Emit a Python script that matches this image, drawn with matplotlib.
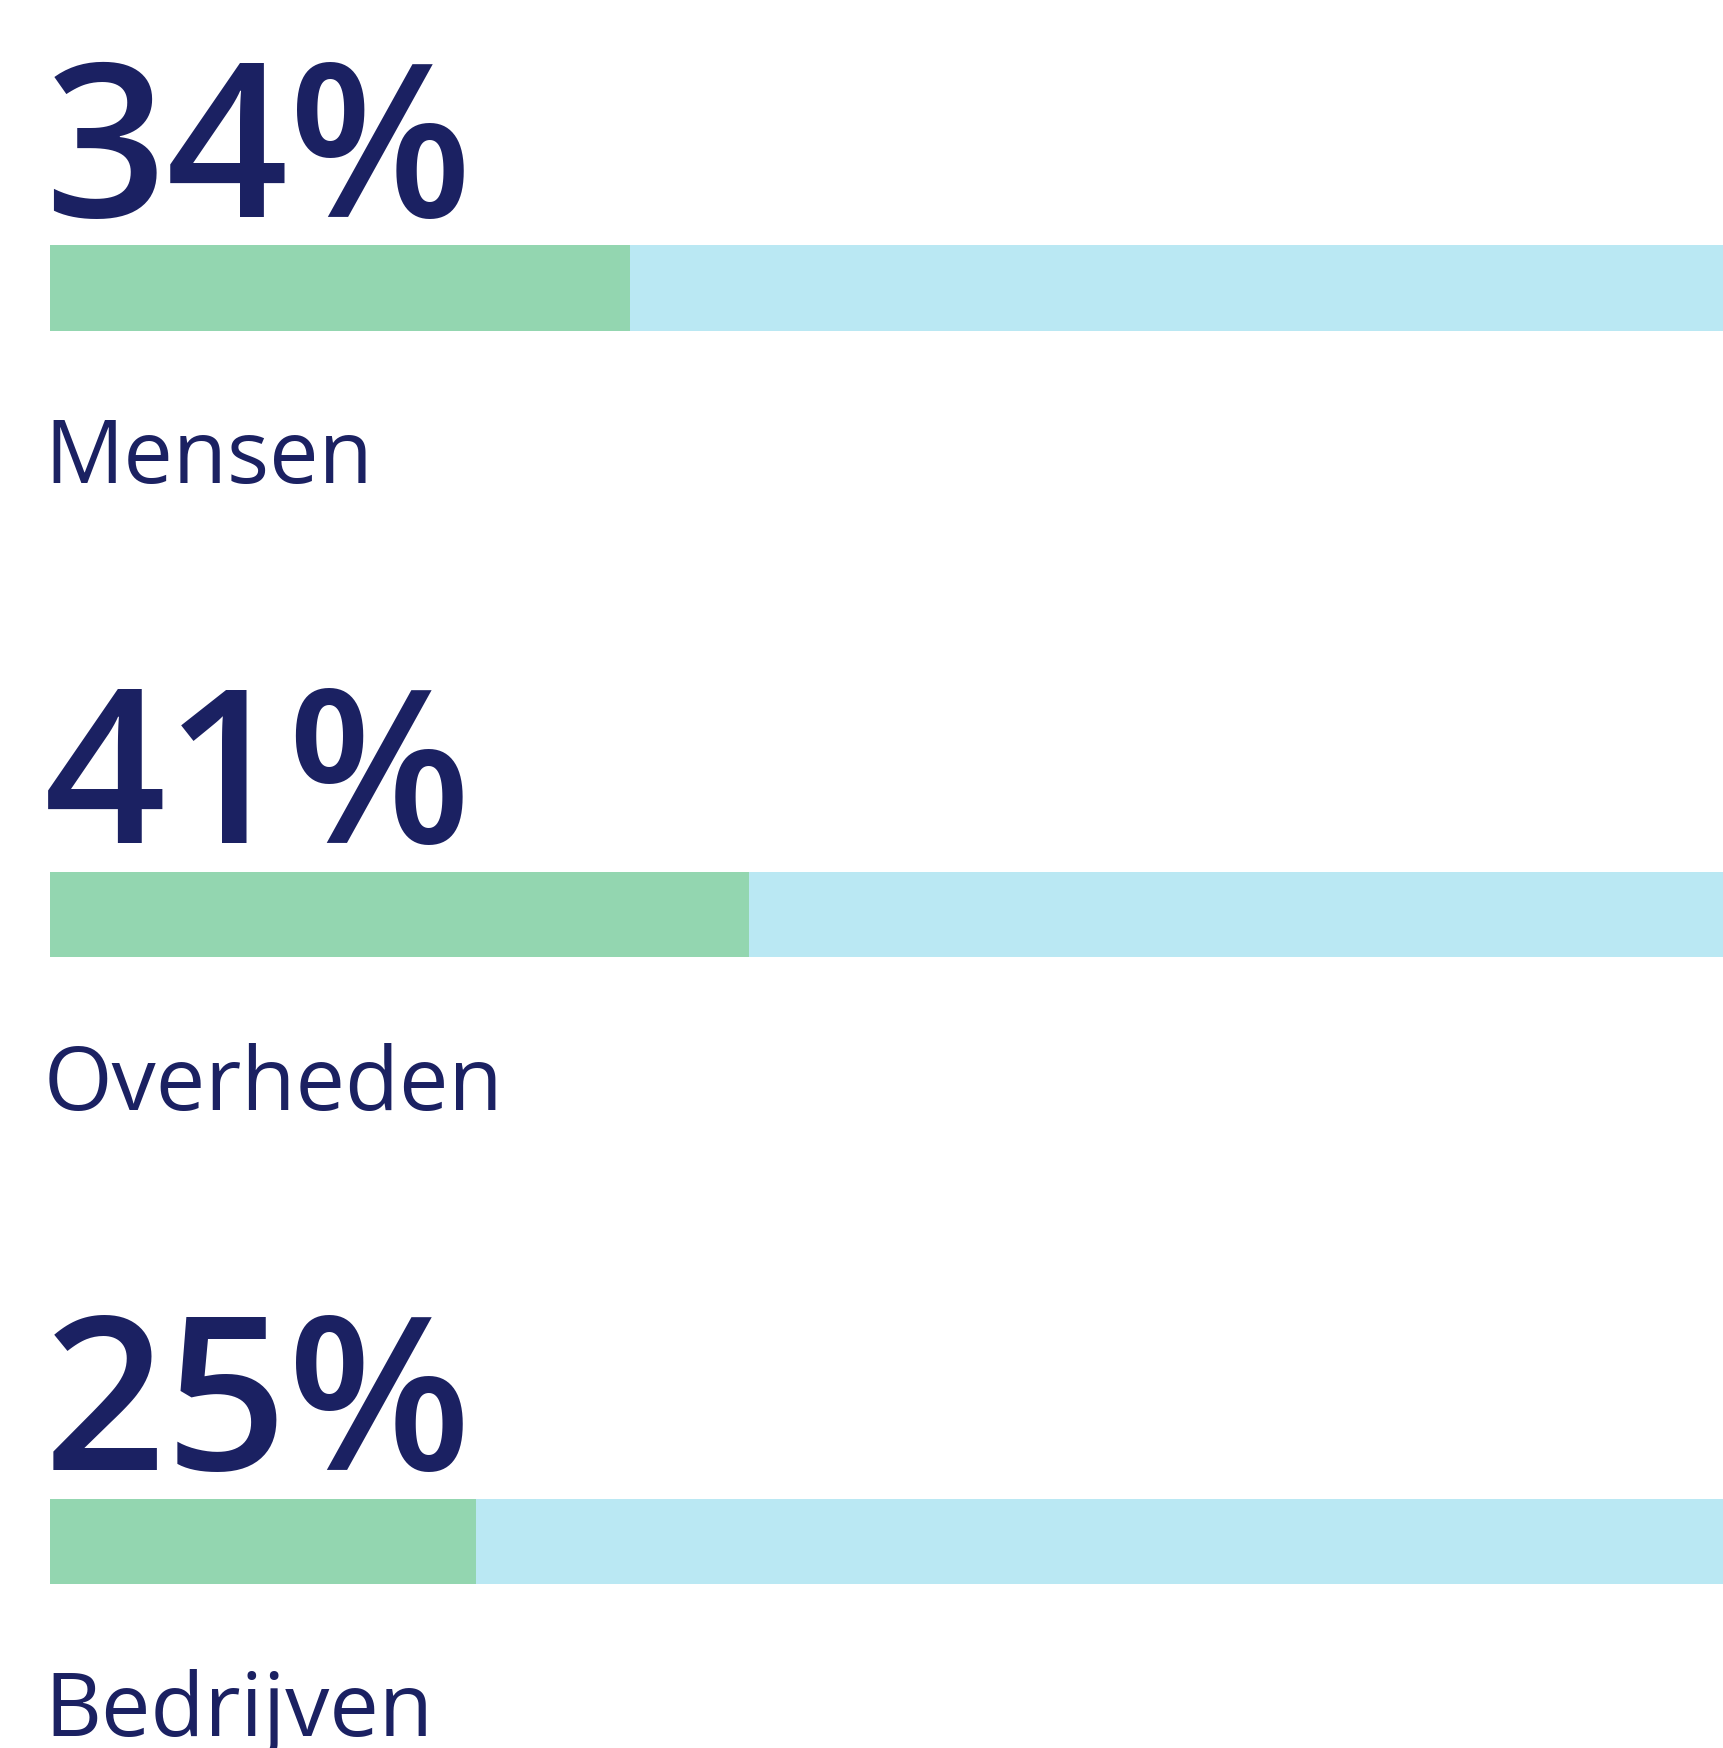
import matplotlib
matplotlib.use("Agg")
import matplotlib.pyplot as plt

# data
categories = ["Mensen", "Overheden", "Bedrijven"]
values = [34, 41, 25]
total = [100, 100, 100]

navy = "#1b2162"
green = "#93d6b0"
light_blue = "#bae8f3"

fig = plt.figure(figsize=(17.23, 17.49), dpi=100)
ax = fig.add_axes([0, 0, 1, 1])

pos = list(range(len(categories)))
ax.barh(pos, total, height=0.136, color=light_blue, edgecolor="none")
ax.barh(pos, values, height=0.136, color=green, edgecolor="none")

for i, (cat, v) in enumerate(zip(categories, values)):
    ax.text(-0.35, i - 0.115, f"{v}%", fontsize=154, fontweight="semibold",
            family="Open Sans", color=navy, ha="left", va="baseline")
    ax.text(-0.35, i + 0.310, cat, fontsize=63.5, family="Open Sans",
            color=navy, ha="left", va="baseline")

ax.set_xlim(-2.93, 98.12)
ax.set_ylim(2.330, -0.461)
ax.axis("off")

fig.savefig("out.png", dpi=100, facecolor="white")
